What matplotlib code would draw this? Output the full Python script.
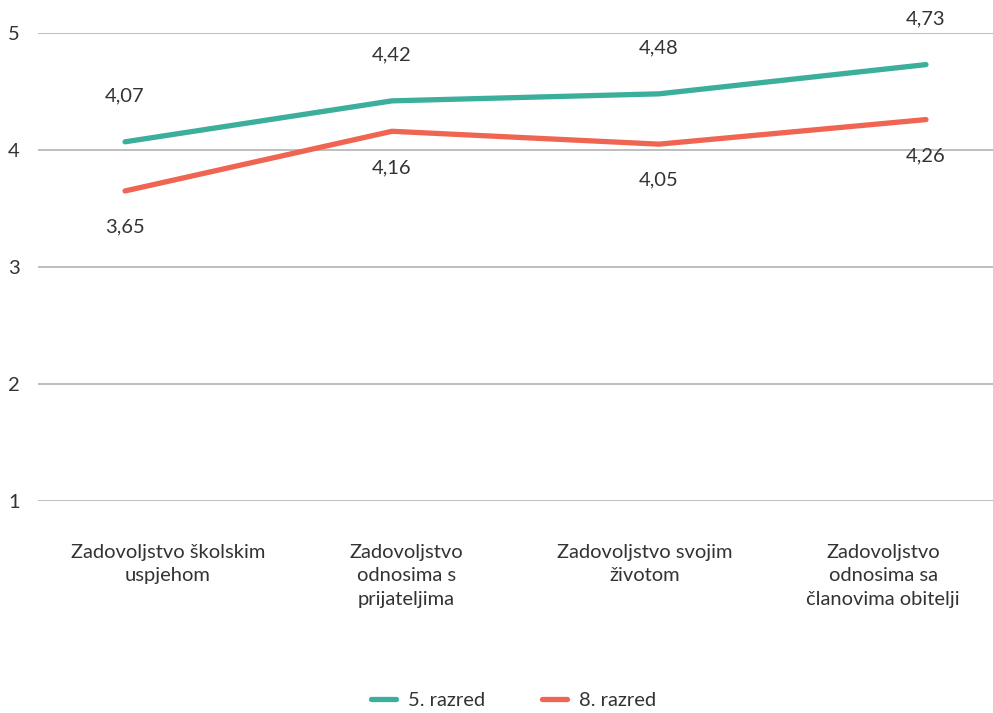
#!/usr/bin/env python3
import matplotlib
matplotlib.use("Agg")
import matplotlib.pyplot as plt
import numpy as np

plt.rcParams['font.family'] = ['Lato', 'DejaVu Sans']

categories = [
    "Zadovoljstvo školskim\nuspjehom",
    "Zadovoljstvo\nodnosima s\nprijateljima",
    "Zadovoljstvo svojim\nživotom",
    "Zadovoljstvo\nodnosima sa\nčlanovima obitelji",
]
razred5 = [4.07, 4.42, 4.48, 4.73]
razred8 = [3.65, 4.16, 4.05, 4.26]
series_names = ["5. razred", "8. razred"]

TEAL = "#3bae9c"
CORAL = "#f06552"
TXT = "#333333"
FS = 14.5

fig = plt.figure(figsize=(9.93, 7.13), dpi=100)
ax = fig.add_axes([38 / 993, 1 - 501 / 713, 1 - 38 / 993, (501 - 33) / 713])

x = np.arange(len(categories))
ax.plot(x, razred5, color=TEAL, lw=3.8, solid_capstyle='round', label=series_names[0])
ax.plot(x, razred8, color=CORAL, lw=3.8, solid_capstyle='round', label=series_names[1])

for xi, v in zip(x, razred5):
    ax.annotate(f"{v:.2f}".replace(".", ","), (xi, v), xytext=(0, 33), textcoords="offset points",
                ha="center", va="center", fontsize=FS, color=TXT)
for xi, v in zip(x, razred8):
    ax.annotate(f"{v:.2f}".replace(".", ","), (xi, v), xytext=(0, -26), textcoords="offset points",
                ha="center", va="center", fontsize=FS, color=TXT)

ax.set_ylim(1, 5)
ax.set_xlim(-0.326, 3.251)
ax.set_yticks([1, 2, 3, 4, 5])
ax.yaxis.grid(True, color="#b3b3b3", lw=1.2)
ax.set_axisbelow(True)
for s in ax.spines.values():
    s.set_visible(False)

# category labels sit a bit off the data points, like in the source chart
label_pos = 0.16 + x * 0.893
ax.set_xticks(label_pos)
ax.set_xticklabels(categories, fontsize=FS, color=TXT, linespacing=1.45, va="top")
ax.tick_params(axis='x', length=0, pad=31)
ax.tick_params(axis='y', length=0, pad=13, labelsize=FS, labelcolor=TXT)

fig.legend(loc="center", bbox_to_anchor=(0.517, 1 - 700 / 713), ncol=2, frameon=False,
           fontsize=FS, handlelength=1.25, handletextpad=0.6, columnspacing=2.8,
           labelcolor=TXT)

fig.savefig("out.png", dpi=100)
